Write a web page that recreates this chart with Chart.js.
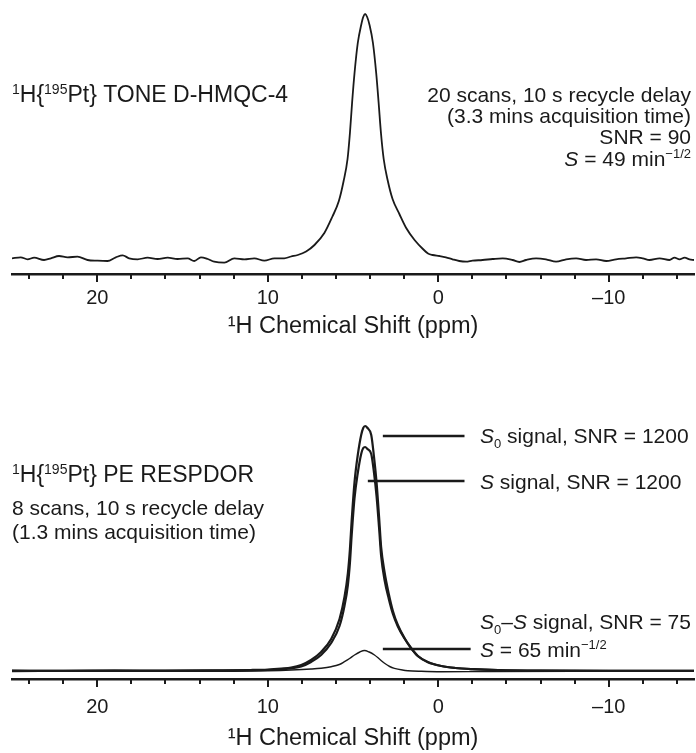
<!DOCTYPE html>
<html>
<head>
<meta charset="utf-8">
<script src="https://cdn.jsdelivr.net/npm/chart.js@4.4.1/dist/chart.umd.min.js"></script>
<style>
  html, body { margin: 0; padding: 0; background: #fff; }
  canvas { display: block; }
</style>
</head>
<body>
<canvas id="tone" width="696" height="345"></canvas>
<canvas id="respdor" width="696" height="408"></canvas>
<script>
// ---- data (ppm, intensity in arbitrary units) ----
const tickValues = [24, 22, 20, 18, 16, 14, 12, 10, 8, 6, 4, 2, 0,
  -2, -4, -6, -8, -10, -12, -14];
const majorTicks = [20, 10, 0, -10];

// 1H{195Pt} TONE D-HMQC-4
const tonePpm = [25.0, 24.49, 24.09, 23.7, 23.12, 22.72, 22.24, 21.74, 21.16, 20.57,
  19.98, 19.4, 18.91, 18.51, 18.13, 17.63, 17.05, 16.46, 15.87, 15.29,
  14.7, 14.31, 13.92, 13.52, 13.14, 12.55, 11.96, 11.37, 10.79, 10.2,
  9.61, 9.03, 8.63, 8.24, 7.75, 7.26, 6.68, 6.22, 5.83, 5.55,
  5.32, 5.18, 5.05, 4.91, 4.72, 4.52, 4.40, 4.29, 4.17, 4.03,
  3.83, 3.64, 3.50, 3.36, 3.20, 2.97, 2.68, 2.28, 1.88, 1.39,
  0.9, 0.6, 0.33, -0.06, -0.45, -0.84, -1.23, -1.63, -2.01, -2.6,
  -3.19, -3.78, -4.36, -4.76, -5.15, -5.74, -6.32, -6.91, -7.5, -8.09,
  -8.67, -9.26, -9.85, -10.43, -11.02, -11.61, -12.0, -12.39, -12.98, -13.56,
  -13.86, -14.15, -14.45, -14.74, -15.0];
const toneInt = [0.7, 1.7, -0.3, 1.3, -1, 0.7, 3, 1.7, 2.3, -1,
  -1.7, -2, 1.7, 3.7, 0.7, -0.3, 1.3, 0, 1.3, 0,
  0.7, -2, 1.7, 0, -2.7, -3.7, 0.7, -0.3, 0.7, -1.7,
  0.7, 0.7, 2.5, 4, 7.5, 14, 26, 42, 58, 78,
  100, 126, 157, 186, 216, 234, 242, 245, 242, 234,
  216, 186, 157, 126, 100, 79, 60, 45, 31, 19,
  10, 5.5, 4, 3, 1.7, -0.3, -2, -2.7, -1.7, -1,
  0, 0.7, -1, -3, -1, 0.7, -0.3, -2.7, -0.3, 0.7,
  -1, -0.3, -2, -0.3, 0.7, 1.7, 0.7, -1, 0.7, -1,
  1.3, -0.3, 1.3, -0.3, -1];

// 1H{195Pt} PE RESPDOR: S0 and S share the ppm grid
const respPpm = [25, 22, 19, 16, 13, 11, 10, 9.2, 8.63, 8.04,
  7.46, 6.87, 6.28, 5.79, 5.5, 5.3, 5.18, 5.08, 4.91, 4.72,
  4.52, 4.40, 4.29, 4.15, 3.93, 3.78, 3.62, 3.47, 3.35, 3.15,
  2.9, 2.66, 2.37, 1.98, 1.59, 1.19, 0.61, -0.18, -1, -2,
  -3.5, -6, -10, -15];
const s0Int = [0.3, 0.2, 0.4, 0.3, 0.6, 1, 1.5, 2.5, 3.5, 6,
  11, 19, 32, 52, 74, 98, 122, 150, 189, 216,
  236, 243, 245, 243, 236, 216, 189, 154, 124, 99,
  77, 60, 46, 33, 23, 15, 9, 5, 3, 1.8,
  0.8, 0.3, 0.2, 0.2];
const sInt = [0.2, 0.1, 0.3, 0.2, 0.4, 0.6, 1, 1.8, 2.5, 4.5,
  9, 16, 28, 45, 65, 86, 108, 135, 173, 198,
  217, 223, 224, 222, 217, 200, 175, 143, 115, 91,
  72, 57, 44.5, 32.5, 22.7, 14.8, 8.8, 5, 3, 1.8,
  0.8, 0.3, 0.2, 0.2];
const diffPpm = [25, 20, 15, 12, 10, 8.63, 7.46, 6.87, 6.28, 5.8,
  5.5, 5.2, 4.91, 4.6, 4.33, 4.05, 3.74, 3.45, 3.15, 2.85,
  2.57, 2.1, 1.78, 1, -0.18, -3, -8, -15];
const diffInt = [-0.5, -0.3, -0.4, -0.2, 0.3, 1, 2, 2.8, 4.3, 6.5,
  9.3, 12.5, 16, 19, 20.5, 19, 16, 12, 7.7, 4.5,
  2.7, 1, 0.3, -0.3, -0.7, -0.5, -0.4, -0.4];

// ---- look ----
const INK = '#1a1a1a';
const FAMILY = '"Liberation Sans", Arial, sans-serif';

const toPoints = (xs, ys) => xs.map((x, i) => ({ x, y: ys[i] }));
const fmtTick = v => v < 0 ? '\u2013' + Math.abs(v) : String(v);

// rich text: <sup>..</sup>, <sub>..</sub>, <i>..</i>
function drawRich(ctx, str, x, y, align, size) {
  const runs = [];
  str.split(/(<(?:sup|sub|i)>.*?<\/(?:sup|sub|i)>)/).forEach(part => {
    if (!part) return;
    const m = part.match(/^<(sup|sub|i)>(.*)<\/\1>$/);
    runs.push(m ? { t: m[2], k: m[1] } : { t: part, k: '' });
  });
  const font = r => (r.k === 'i' ? 'italic ' : '') +
    (r.k === 'sup' || r.k === 'sub' ? Math.round(size * 0.62) : size) + 'px ' + FAMILY;
  let w = 0;
  runs.forEach(r => { ctx.font = font(r); w += ctx.measureText(r.t).width; });
  let cx = align === 'right' ? x - w : x;
  runs.forEach(r => {
    ctx.font = font(r);
    const dy = r.k === 'sup' ? -size * 0.36 : r.k === 'sub' ? size * 0.22 : 0;
    ctx.fillText(r.t, cx, y + dy);
    cx += ctx.measureText(r.t).width;
  });
}

// minor ticks every 2 ppm, longer ones at the labelled values
const tickMarks = {
  id: 'tickMarks',
  afterDraw(chart) {
    const sx = chart.scales.x, ctx = chart.ctx, y0 = chart.chartArea.bottom;
    ctx.save();
    ctx.strokeStyle = INK;
    ctx.lineWidth = 2;
    sx.ticks.forEach(t => {
      const px = Math.round(sx.getPixelForValue(t.value));
      const len = majorTicks.includes(t.value) ? 8 : 5;
      ctx.beginPath();
      ctx.moveTo(px, y0);
      ctx.lineTo(px, y0 + len);
      ctx.stroke();
    });
    ctx.restore();
  }
};

// labels and pointer lines
const notes = {
  id: 'notes',
  afterDraw(chart, args, opts) {
    const ctx = chart.ctx, sx = chart.scales.x, sy = chart.scales.y;
    ctx.save();
    ctx.fillStyle = INK;
    ctx.textBaseline = 'alphabetic';
    (opts.texts || []).forEach(t => drawRich(ctx, t.s, t.x, t.y, t.align, t.size));
    ctx.strokeStyle = INK;
    ctx.lineWidth = 2.6;
    (opts.lines || []).forEach(l => {
      const yy = Math.round(sy.getPixelForValue(l.at));
      ctx.beginPath();
      ctx.moveTo(sx.getPixelForValue(l.from), yy);
      ctx.lineTo(sx.getPixelForValue(l.to), yy);
      ctx.stroke();
    });
    ctx.restore();
  }
};

function makeChart(id, datasets, cfg) {
  return new Chart(document.getElementById(id), {
    type: 'line',
    data: { datasets },
    options: {
      responsive: false,
      animation: false,
      events: [],
      layout: { padding: { left: 12, right: 2, top: cfg.top, bottom: 0 } },
      plugins: {
        legend: { display: false },
        tooltip: { enabled: false },
        notes: { texts: cfg.texts, lines: cfg.lines }
      },
      scales: {
        x: {
          type: 'linear',
          reverse: true,
          min: -15,
          max: 25,
          grid: { display: false },
          border: { display: true, color: INK, width: 2.5 },
          afterBuildTicks: s => { s.ticks = tickValues.map(v => ({ value: v })); },
          ticks: {
            autoSkip: false,
            maxRotation: 0,
            padding: cfg.tickPad,
            color: INK,
            font: { family: FAMILY, size: 20 },
            callback: v => majorTicks.includes(v) ? fmtTick(v) : ''
          },
          title: {
            display: true,
            text: '\u00B9H Chemical Shift (ppm)',
            color: INK,
            font: { family: FAMILY, size: 23.5 },
            padding: { top: 0, bottom: cfg.titlePad }
          },
          afterFit: s => {
            s.height = cfg.axisH;
            s.paddingLeft = 0;
            s.paddingRight = 0;
          }
        },
        y: { display: false, min: cfg.yMin, max: cfg.yMax }
      }
    },
    plugins: [tickMarks, notes]
  });
}

const line = (pts, w) => ({
  data: pts, borderColor: INK, borderWidth: w, pointRadius: 0,
  fill: false, cubicInterpolationMode: 'monotone'
});

makeChart('tone', [line(toPoints(tonePpm, toneInt), 1.8)], {
  top: 10, axisH: 71, yMin: -15, yMax: 249, tickPad: 4, titlePad: 4,
  texts: [
    { s: '<sup>1</sup>H{<sup>195</sup>Pt} TONE D-HMQC-4', x: 12, y: 102, align: 'left', size: 23 },
    { s: '20 scans, 10 s recycle delay', x: 691, y: 102, align: 'right', size: 21 },
    { s: '(3.3 mins acquisition time)', x: 691, y: 123, align: 'right', size: 21 },
    { s: 'SNR = 90', x: 691, y: 144, align: 'right', size: 21 },
    { s: '<i>S</i> = 49 min<sup>\u22121/2</sup>', x: 691, y: 166, align: 'right', size: 21 }
  ],
  lines: []
});

makeChart('respdor', [
  line(toPoints(respPpm, s0Int), 2.2),
  line(toPoints(respPpm, sInt), 2.2),
  line(toPoints(diffPpm, diffInt), 1.4)
], {
  top: 70, axisH: 74, yMin: -8, yMax: 256, tickPad: 8, titlePad: 0,
  texts: [
    { s: '<sup>1</sup>H{<sup>195</sup>Pt} PE RESPDOR', x: 12, y: 137, align: 'left', size: 23 },
    { s: '8 scans, 10 s recycle delay', x: 12, y: 169.5, align: 'left', size: 21 },
    { s: '(1.3 mins acquisition time)', x: 12, y: 193.5, align: 'left', size: 21 },
    { s: '<i>S</i><sub>0</sub> signal, SNR = 1200', x: 480, y: 98, align: 'left', size: 21 },
    { s: '<i>S</i> signal, SNR = 1200', x: 480, y: 143.5, align: 'left', size: 21 },
    { s: '<i>S</i><sub>0</sub>\u2013<i>S</i> signal, SNR = 75', x: 480, y: 284, align: 'left', size: 21 },
    { s: '<i>S</i> = 65 min<sup>\u22121/2</sup>', x: 480, y: 311.5, align: 'left', size: 21 }
  ],
  lines: [
    { from: 3.25, to: -1.54, at: 235 },
    { from: 4.13, to: -1.54, at: 190 },
    { from: 3.25, to: -1.9, at: 22 }
  ]
});
</script>
</body>
</html>
